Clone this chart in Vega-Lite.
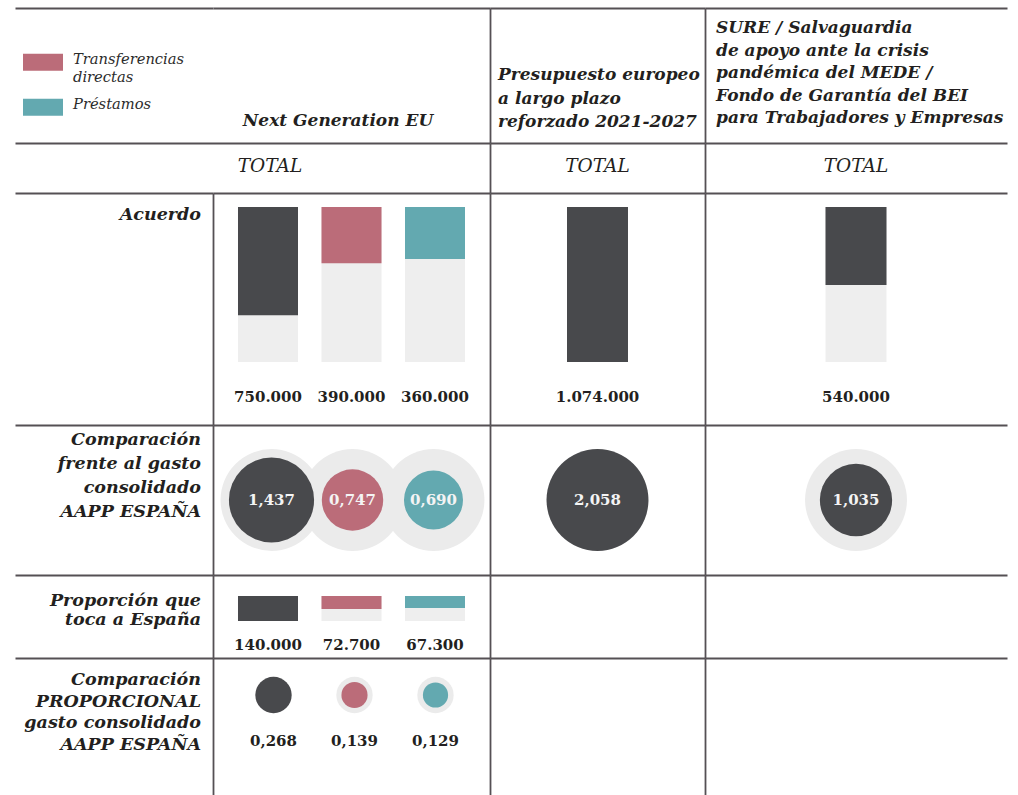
{
  "$schema": "https://vega.github.io/schema/vega-lite/v6.json",
  "padding": {"left": 15, "top": 8, "right": 11, "bottom": 0},
  "background": "white",
  "spacing": 0,
  "datasets": {
    "valores": [
      {"fila": "Acuerdo", "columna": "Next Generation EU", "serie": "Total", "valor": 750000},
      {"fila": "Acuerdo", "columna": "Next Generation EU", "serie": "Transferencias directas", "valor": 390000},
      {"fila": "Acuerdo", "columna": "Next Generation EU", "serie": "Préstamos", "valor": 360000},
      {"fila": "Acuerdo", "columna": "Presupuesto europeo", "serie": "Total", "valor": 1074000},
      {"fila": "Acuerdo", "columna": "SURE", "serie": "Total", "valor": 540000},
      {"fila": "Comparación", "columna": "Next Generation EU", "serie": "Total", "valor": 1.437},
      {"fila": "Comparación", "columna": "Next Generation EU", "serie": "Transferencias directas", "valor": 0.747},
      {"fila": "Comparación", "columna": "Next Generation EU", "serie": "Préstamos", "valor": 0.690},
      {"fila": "Comparación", "columna": "Presupuesto europeo", "serie": "Total", "valor": 2.058},
      {"fila": "Comparación", "columna": "SURE", "serie": "Total", "valor": 1.035},
      {"fila": "Proporción", "columna": "Next Generation EU", "serie": "Total", "valor": 140000},
      {"fila": "Proporción", "columna": "Next Generation EU", "serie": "Transferencias directas", "valor": 72700},
      {"fila": "Proporción", "columna": "Next Generation EU", "serie": "Préstamos", "valor": 67300},
      {"fila": "Proporcional", "columna": "Next Generation EU", "serie": "Total", "valor": 0.268},
      {"fila": "Proporcional", "columna": "Next Generation EU", "serie": "Transferencias directas", "valor": 0.139},
      {"fila": "Proporcional", "columna": "Next Generation EU", "serie": "Préstamos", "valor": 0.129}
    ],
    "celdas": [
      {"fila": "Cabecera", "columna": "Leyenda", "serie": "Transferencias directas", "texto": "Transferencias\ndirectas"},
      {"fila": "Cabecera", "columna": "Leyenda", "serie": "Préstamos", "texto": "Préstamos"},
      {"fila": "Cabecera", "columna": "Next Generation EU", "texto": "Next Generation EU"},
      {"fila": "Cabecera", "columna": "Presupuesto europeo", "texto": "Presupuesto europeo\na largo plazo\nreforzado 2021-2027"},
      {"fila": "Cabecera", "columna": "SURE", "texto": "SURE / Salvaguardia\nde apoyo ante la crisis\npandémica del MEDE /\nFondo de Garantía del BEI\npara Trabajadores y Empresas"},
      {"fila": "Total", "columna": "Next Generation EU", "texto": "TOTAL"},
      {"fila": "Total", "columna": "Presupuesto europeo", "texto": "TOTAL"},
      {"fila": "Total", "columna": "SURE", "texto": "TOTAL"},
      {"fila": "Acuerdo", "columna": "Etiqueta", "texto": "Acuerdo"},
      {"fila": "Comparación", "columna": "Etiqueta", "texto": "Comparación\u00a0\nfrente al gasto\u00a0\nconsolidado\nAAPP ESPAÑA"},
      {"fila": "Proporción", "columna": "Etiqueta", "texto": "Proporción que\ntoca a España"},
      {"fila": "Proporcional", "columna": "Etiqueta", "texto": "Comparación\u00a0\nPROPORCIONAL\ngasto consolidado\nAAPP ESPAÑA"},
      {"fila": "Proporción", "columna": "Presupuesto europeo", "texto": ""},
      {"fila": "Proporción", "columna": "SURE", "texto": ""},
      {"fila": "Proporcional", "columna": "Presupuesto europeo", "texto": ""},
      {"fila": "Proporcional", "columna": "SURE", "texto": ""}
    ]
  },
  "vconcat": [
    {
      "hconcat": [
        {
          "width": 198, "height": 135,
          "data": {"name": "celdas"},
          "transform": [{"filter": "datum.columna == 'Leyenda'"}],
          "encoding": {
            "x": {"field": "columna", "type": "nominal", "title": null, "bandPosition": 0, "scale": {"type": "band", "paddingInner": 0, "paddingOuter": 0}, "axis": {"orient": "top"}},
            "y": {"field": "serie", "type": "nominal", "title": null, "sort": ["Transferencias directas", "Préstamos"], "scale": {"type": "point", "padding": 1.017}, "axis": null}
          },
          "layer": [
            {
              "mark": {"type": "point", "filled": true, "opacity": 1, "shape": "M-1,-0.425H1V0.425H-1Z", "size": 1600, "xOffset": 28, "yOffset": 9.25},
              "encoding": {"color": {"field": "serie", "type": "nominal", "legend": null, "scale": {"domain": ["Total", "Transferencias directas", "Préstamos"], "range": ["#48494c", "#bb6c79", "#63a9b0"]}}}
            },
            {
              "mark": {"type": "text", "align": "left", "baseline": "middle", "dx": 58, "dy": 6.5, "font": "DejaVu Serif", "fontStyle": "italic", "fontSize": 14.7, "lineBreak": "\n", "lineHeight": 18, "color": "#2b2b2b"},
              "encoding": {"text": {"field": "texto"}}
            }
          ]
        },
        {
          "width": 277, "height": 135,
          "data": {"name": "celdas"},
          "transform": [{"filter": "datum.fila == 'Cabecera' && datum.columna == 'Next Generation EU'"}],
          "mark": {"type": "text", "align": "center", "baseline": "middle", "dx": -13.5, "dy": 45.5, "font": "DejaVu Serif", "fontStyle": "italic", "fontWeight": "bold", "fontSize": 17, "color": "#231f20"},
          "encoding": {
            "x": {"field": "columna", "type": "nominal", "title": null, "scale": {"type": "band", "paddingInner": 0, "paddingOuter": 0}, "axis": {"orient": "top"}},
            "y": {"field": "fila", "type": "nominal", "title": null, "scale": {"type": "band", "paddingInner": 0, "paddingOuter": 0}, "axis": null},
            "text": {"field": "texto"}
          }
        },
        {
          "width": 215, "height": 135,
          "data": {"name": "celdas"},
          "transform": [{"filter": "datum.fila == 'Cabecera' && datum.columna == 'Presupuesto europeo'"}],
          "mark": {"type": "text", "align": "left", "baseline": "middle", "dx": 8, "dy": -0.5, "font": "DejaVu Serif", "fontStyle": "italic", "fontWeight": "bold", "fontSize": 17, "lineBreak": "\n", "lineHeight": 23.5, "color": "#231f20"},
          "encoding": {
            "x": {"field": "columna", "type": "nominal", "title": null, "bandPosition": 0, "scale": {"type": "band", "paddingInner": 0, "paddingOuter": 0}, "axis": {"orient": "top"}},
            "y": {"field": "fila", "type": "nominal", "title": null, "scale": {"type": "band", "paddingInner": 0, "paddingOuter": 0}, "axis": {"orient": "left"}},
            "text": {"field": "texto"}
          }
        },
        {
          "width": 302, "height": 135,
          "data": {"name": "celdas"},
          "transform": [{"filter": "datum.fila == 'Cabecera' && datum.columna == 'SURE'"}],
          "mark": {"type": "text", "align": "left", "baseline": "middle", "dx": 11, "dy": 20, "font": "DejaVu Serif", "fontStyle": "italic", "fontWeight": "bold", "fontSize": 17, "lineBreak": "\n", "lineHeight": 22.5, "color": "#231f20"},
          "encoding": {
            "x": {"field": "columna", "type": "nominal", "title": null, "bandPosition": 0, "scale": {"type": "band", "paddingInner": 0, "paddingOuter": 0}, "axis": {"orient": "top"}},
            "y": {"field": "fila", "type": "nominal", "title": null, "bandPosition": 0, "scale": {"type": "band", "paddingInner": 0, "paddingOuter": 0}, "axis": {"orient": "left"}},
            "text": {"field": "texto"}
          }
        }
      ],
      "spacing": 0,
      "bounds": "flush"
    },
    {
      "hconcat": [
        {
          "width": 475, "height": 50,
          "data": {"name": "celdas"},
          "transform": [{"filter": "datum.fila == 'Total' && datum.columna == 'Next Generation EU'"}],
          "mark": {"type": "text", "align": "center", "baseline": "middle", "dx": 17.5, "dy": -2, "font": "DejaVu Serif", "fontStyle": "italic", "fontSize": 18.5, "color": "#231f20"},
          "encoding": {
            "x": {"field": "columna", "type": "nominal", "title": null, "scale": {"type": "band", "paddingInner": 0, "paddingOuter": 0}, "axis": {"orient": "top"}},
            "y": {"field": "fila", "type": "nominal", "title": null, "scale": {"type": "band", "paddingInner": 0, "paddingOuter": 0}, "axis": null},
            "text": {"field": "texto"}
          }
        },
        {
          "width": 215, "height": 50,
          "data": {"name": "celdas"},
          "transform": [{"filter": "datum.fila == 'Total' && datum.columna == 'Presupuesto europeo'"}],
          "mark": {"type": "text", "align": "center", "baseline": "middle", "dy": -2, "font": "DejaVu Serif", "fontStyle": "italic", "fontSize": 18.5, "color": "#231f20"},
          "encoding": {
            "x": {"field": "columna", "type": "nominal", "title": null, "scale": {"type": "band", "paddingInner": 0, "paddingOuter": 0}, "axis": {"orient": "top"}},
            "y": {"field": "fila", "type": "nominal", "title": null, "scale": {"type": "band", "paddingInner": 0, "paddingOuter": 0}, "axis": {"orient": "left"}},
            "text": {"field": "texto"}
          }
        },
        {
          "width": 302, "height": 50,
          "data": {"name": "celdas"},
          "transform": [{"filter": "datum.fila == 'Total' && datum.columna == 'SURE'"}],
          "mark": {"type": "text", "align": "center", "baseline": "middle", "dy": -2, "font": "DejaVu Serif", "fontStyle": "italic", "fontSize": 18.5, "color": "#231f20"},
          "encoding": {
            "x": {"field": "columna", "type": "nominal", "title": null, "scale": {"type": "band", "paddingInner": 0, "paddingOuter": 0}, "axis": {"orient": "top"}},
            "y": {"field": "fila", "type": "nominal", "title": null, "scale": {"type": "band", "paddingInner": 0, "paddingOuter": 0}, "axis": {"orient": "left"}},
            "text": {"field": "texto"}
          }
        }
      ],
      "spacing": 0,
      "bounds": "flush"
    },
    {
      "hconcat": [
        {
          "width": 198, "height": 232,
          "data": {"name": "celdas"},
          "transform": [{"filter": "datum.fila == 'Acuerdo' && datum.columna == 'Etiqueta'"}],
          "mark": {"type": "text", "align": "right", "baseline": "middle", "dx": -12, "dy": 22, "font": "DejaVu Serif", "fontStyle": "italic", "fontWeight": "bold", "fontSize": 17.5, "lineBreak": "\n", "lineHeight": 24, "color": "#231f20"},
          "encoding": {
            "x": {"field": "columna", "type": "nominal", "title": null, "bandPosition": 1, "scale": {"type": "band", "paddingInner": 0, "paddingOuter": 0}, "axis": {"orient": "top"}},
            "y": {"field": "fila", "type": "nominal", "title": null, "bandPosition": 0, "scale": {"type": "band", "paddingInner": 0, "paddingOuter": 0}, "axis": {"orient": "right"}},
            "text": {"field": "texto"}
          }
        },
        {
          "width": 277, "height": 232,
          "data": {"name": "valores"},
          "transform": [
            {"joinaggregate": [{"op": "max", "field": "valor", "as": "max"}], "groupby": ["fila"]},
            {"filter": "datum.fila == 'Acuerdo' && datum.columna == 'Next Generation EU'"}
          ],
          "encoding": {
            "x": {"field": "serie", "type": "nominal", "title": null, "scale": {"type": "band", "domain": ["Total", "Transferencias directas", "Préstamos"], "paddingInner": 0.2814, "paddingOuter": 0.2994}, "axis": {"orient": "top"}}
          },
          "layer": [
            {
              "mark": {"type": "bar", "color": "#eeeeee"},
              "encoding": {"y": {"field": "max", "type": "quantitative", "title": null, "scale": {"range": [14, 169], "nice": false, "zero": true}, "axis": null}}
            },
            {
              "mark": {"type": "bar"},
              "encoding": {
                "y": {"field": "valor", "type": "quantitative", "title": null, "axis": null},
                "color": {"field": "serie", "type": "nominal", "legend": null, "scale": {"domain": ["Total", "Transferencias directas", "Préstamos"], "range": ["#48494c", "#bb6c79", "#63a9b0"]}}
              }
            },
            {
              "mark": {"type": "text", "align": "center", "baseline": "middle", "dy": 35, "font": "DejaVu Serif", "fontWeight": "bold", "fontSize": 15, "color": "#231f20"},
              "encoding": {
                "y": {"field": "max", "type": "quantitative", "title": null, "axis": null},
                "text": {"field": "valor", "type": "quantitative", "format": ",.0f"}
              }
            }
          ]
        },
        {
          "width": 215, "height": 232,
          "data": {"name": "valores"},
          "transform": [
            {"joinaggregate": [{"op": "max", "field": "valor", "as": "max"}], "groupby": ["fila"]},
            {"filter": "datum.fila == 'Acuerdo' && datum.columna == 'Presupuesto europeo'"}
          ],
          "encoding": {
            "x": {"field": "serie", "type": "nominal", "title": null, "scale": {"type": "band", "paddingInner": 0.208, "paddingOuter": 1}, "axis": {"orient": "top"}}
          },
          "layer": [
            {
              "layer": [
                {
                  "mark": {"type": "bar", "color": "#eeeeee"},
                  "encoding": {"y": {"field": "max", "type": "quantitative", "title": null, "scale": {"range": [14, 169], "nice": false, "zero": true}, "axis": null}}
                },
                {
                  "mark": {"type": "bar"},
                  "encoding": {
                    "y": {"field": "valor", "type": "quantitative", "title": null, "axis": null},
                    "color": {"field": "serie", "type": "nominal", "legend": null, "scale": {"domain": ["Total", "Transferencias directas", "Préstamos"], "range": ["#48494c", "#bb6c79", "#63a9b0"]}}
                  }
                }
              ]
            },
            {
              "mark": {"type": "text", "align": "center", "baseline": "middle", "dy": 88, "font": "DejaVu Serif", "fontWeight": "bold", "fontSize": 15, "color": "#231f20"},
              "encoding": {
                "y": {"field": "fila", "type": "nominal", "title": null, "axis": {"orient": "left"}},
                "text": {"field": "valor", "type": "quantitative", "format": ",.0f"}
              }
            }
          ],
          "resolve": {"scale": {"y": "independent"}}
        },
        {
          "width": 302, "height": 232,
          "data": {"name": "valores"},
          "transform": [
            {"joinaggregate": [{"op": "max", "field": "valor", "as": "max"}], "groupby": ["fila"]},
            {"filter": "datum.fila == 'Acuerdo' && datum.columna == 'SURE'"}
          ],
          "encoding": {
            "x": {"field": "serie", "type": "nominal", "title": null, "scale": {"type": "band", "paddingInner": 0.494, "paddingOuter": 1}, "axis": {"orient": "top"}}
          },
          "layer": [
            {
              "layer": [
                {
                  "mark": {"type": "bar", "color": "#eeeeee"},
                  "encoding": {"y": {"field": "max", "type": "quantitative", "title": null, "scale": {"range": [14, 169], "nice": false, "zero": true}, "axis": null}}
                },
                {
                  "mark": {"type": "bar"},
                  "encoding": {
                    "y": {"field": "valor", "type": "quantitative", "title": null, "axis": null},
                    "color": {"field": "serie", "type": "nominal", "legend": null, "scale": {"domain": ["Total", "Transferencias directas", "Préstamos"], "range": ["#48494c", "#bb6c79", "#63a9b0"]}}
                  }
                }
              ]
            },
            {
              "mark": {"type": "text", "align": "center", "baseline": "middle", "dy": 88, "font": "DejaVu Serif", "fontWeight": "bold", "fontSize": 15, "color": "#231f20"},
              "encoding": {
                "y": {"field": "fila", "type": "nominal", "title": null, "axis": {"orient": "left"}},
                "text": {"field": "valor", "type": "quantitative", "format": ",.0f"}
              }
            }
          ],
          "resolve": {"scale": {"y": "independent"}}
        }
      ],
      "spacing": 0,
      "bounds": "flush"
    },
    {
      "hconcat": [
        {
          "width": 198, "height": 150,
          "data": {"name": "celdas"},
          "transform": [{"filter": "datum.fila == 'Comparación' && datum.columna == 'Etiqueta'"}],
          "mark": {"type": "text", "align": "right", "baseline": "middle", "dx": -12, "dy": 15, "font": "DejaVu Serif", "fontStyle": "italic", "fontWeight": "bold", "fontSize": 17.5, "lineBreak": "\n", "lineHeight": 24, "color": "#231f20"},
          "encoding": {
            "x": {"field": "columna", "type": "nominal", "title": null, "bandPosition": 1, "scale": {"type": "band", "paddingInner": 0, "paddingOuter": 0}, "axis": {"orient": "top"}},
            "y": {"field": "fila", "type": "nominal", "title": null, "bandPosition": 0, "scale": {"type": "band", "paddingInner": 0, "paddingOuter": 0}, "axis": {"orient": "right"}},
            "text": {"field": "texto"}
          }
        },
        {
          "width": 277, "height": 150,
          "data": {"name": "valores"},
          "transform": [
            {"joinaggregate": [{"op": "max", "field": "valor", "as": "max"}], "groupby": ["fila"]},
            {"filter": "datum.fila == 'Comparación' && datum.columna == 'Next Generation EU'"}
          ],
          "encoding": {
            "x": {"field": "serie", "type": "nominal", "title": null, "scale": {"type": "point", "domain": ["Total", "Transferencias directas", "Préstamos"], "padding": 0.71}, "axis": {"orient": "top"}},
            "y": {"field": "fila", "type": "nominal", "title": null, "axis": null}
          },
          "layer": [
            {
              "mark": {"type": "circle", "color": "#ebebeb", "opacity": 1, "xOffset": 1},
              "encoding": {"size": {"field": "max", "type": "quantitative", "legend": null, "scale": {"range": [0, 10387], "zero": true, "nice": false}}}
            },
            {
              "mark": {"type": "circle", "opacity": 1, "xOffset": 1},
              "encoding": {
                "size": {"field": "valor", "type": "quantitative", "legend": null},
                "color": {"field": "serie", "type": "nominal", "legend": null, "scale": {"domain": ["Total", "Transferencias directas", "Préstamos"], "range": ["#48494c", "#bb6c79", "#63a9b0"]}}
              }
            },
            {
              "mark": {"type": "text", "align": "center", "baseline": "middle", "dx": 1, "font": "DejaVu Serif", "fontWeight": "bold", "fontSize": 15, "color": "#f4f4f4"},
              "encoding": {"text": {"field": "valor", "type": "quantitative", "format": ".3f"}}
            }
          ]
        },
        {
          "width": 215, "height": 150,
          "data": {"name": "valores"},
          "transform": [
            {"joinaggregate": [{"op": "max", "field": "valor", "as": "max"}], "groupby": ["fila"]},
            {"filter": "datum.fila == 'Comparación' && datum.columna == 'Presupuesto europeo'"}
          ],
          "encoding": {
            "x": {"field": "serie", "type": "nominal", "title": null, "scale": {"type": "point"}, "axis": {"orient": "top"}},
            "y": {"field": "fila", "type": "nominal", "title": null, "axis": {"orient": "left"}}
          },
          "layer": [
            {
              "mark": {"type": "circle", "color": "#ebebeb", "opacity": 1},
              "encoding": {"size": {"field": "max", "type": "quantitative", "legend": null, "scale": {"range": [0, 10387], "zero": true, "nice": false}}}
            },
            {
              "mark": {"type": "circle", "opacity": 1},
              "encoding": {
                "size": {"field": "valor", "type": "quantitative", "legend": null},
                "color": {"field": "serie", "type": "nominal", "legend": null, "scale": {"domain": ["Total", "Transferencias directas", "Préstamos"], "range": ["#48494c", "#bb6c79", "#63a9b0"]}}
              }
            },
            {
              "mark": {"type": "text", "align": "center", "baseline": "middle", "font": "DejaVu Serif", "fontWeight": "bold", "fontSize": 15, "color": "#f4f4f4"},
              "encoding": {"text": {"field": "valor", "type": "quantitative", "format": ".3f"}}
            }
          ]
        },
        {
          "width": 302, "height": 150,
          "data": {"name": "valores"},
          "transform": [
            {"joinaggregate": [{"op": "max", "field": "valor", "as": "max"}], "groupby": ["fila"]},
            {"filter": "datum.fila == 'Comparación' && datum.columna == 'SURE'"}
          ],
          "encoding": {
            "x": {"field": "serie", "type": "nominal", "title": null, "scale": {"type": "point"}, "axis": {"orient": "top"}},
            "y": {"field": "fila", "type": "nominal", "title": null, "axis": {"orient": "left"}}
          },
          "layer": [
            {
              "mark": {"type": "circle", "color": "#ebebeb", "opacity": 1},
              "encoding": {"size": {"field": "max", "type": "quantitative", "legend": null, "scale": {"range": [0, 10387], "zero": true, "nice": false}}}
            },
            {
              "mark": {"type": "circle", "opacity": 1},
              "encoding": {
                "size": {"field": "valor", "type": "quantitative", "legend": null},
                "color": {"field": "serie", "type": "nominal", "legend": null, "scale": {"domain": ["Total", "Transferencias directas", "Préstamos"], "range": ["#48494c", "#bb6c79", "#63a9b0"]}}
              }
            },
            {
              "mark": {"type": "text", "align": "center", "baseline": "middle", "font": "DejaVu Serif", "fontWeight": "bold", "fontSize": 15, "color": "#f4f4f4"},
              "encoding": {"text": {"field": "valor", "type": "quantitative", "format": ".3f"}}
            }
          ]
        }
      ],
      "spacing": 0,
      "bounds": "flush"
    },
    {
      "hconcat": [
        {
          "width": 198, "height": 83,
          "data": {"name": "celdas"},
          "transform": [{"filter": "datum.fila == 'Proporción' && datum.columna == 'Etiqueta'"}],
          "mark": {"type": "text", "align": "right", "baseline": "middle", "dx": -12, "dy": 26, "font": "DejaVu Serif", "fontStyle": "italic", "fontWeight": "bold", "fontSize": 17.5, "lineBreak": "\n", "lineHeight": 19, "color": "#231f20"},
          "encoding": {
            "x": {"field": "columna", "type": "nominal", "title": null, "bandPosition": 1, "scale": {"type": "band", "paddingInner": 0, "paddingOuter": 0}, "axis": {"orient": "top"}},
            "y": {"field": "fila", "type": "nominal", "title": null, "bandPosition": 0, "scale": {"type": "band", "paddingInner": 0, "paddingOuter": 0}, "axis": {"orient": "right"}},
            "text": {"field": "texto"}
          }
        },
        {
          "width": 277, "height": 83,
          "data": {"name": "valores"},
          "transform": [
            {"joinaggregate": [{"op": "max", "field": "valor", "as": "max"}], "groupby": ["fila"]},
            {"filter": "datum.fila == 'Proporción' && datum.columna == 'Next Generation EU'"}
          ],
          "encoding": {
            "x": {"field": "serie", "type": "nominal", "title": null, "scale": {"type": "band", "domain": ["Total", "Transferencias directas", "Préstamos"], "paddingInner": 0.2814, "paddingOuter": 0.2994}, "axis": {"orient": "top"}}
          },
          "layer": [
            {
              "mark": {"type": "bar", "color": "#eeeeee"},
              "encoding": {"y": {"field": "max", "type": "quantitative", "title": null, "scale": {"range": [21, 46], "nice": false, "zero": true}, "axis": null}}
            },
            {
              "mark": {"type": "bar"},
              "encoding": {
                "y": {"field": "valor", "type": "quantitative", "title": null, "axis": null},
                "color": {"field": "serie", "type": "nominal", "legend": null, "scale": {"domain": ["Total", "Transferencias directas", "Préstamos"], "range": ["#48494c", "#bb6c79", "#63a9b0"]}}
              }
            },
            {
              "mark": {"type": "text", "align": "center", "baseline": "middle", "dy": 24, "font": "DejaVu Serif", "fontWeight": "bold", "fontSize": 15, "color": "#231f20"},
              "encoding": {
                "y": {"field": "max", "type": "quantitative", "title": null, "axis": null},
                "text": {"field": "valor", "type": "quantitative", "format": ",.0f"}
              }
            }
          ]
        },
        {
          "width": 215, "height": 83,
          "data": {"name": "celdas"},
          "transform": [{"filter": "datum.fila == 'Proporción' && datum.columna == 'Presupuesto europeo'"}],
          "mark": {"type": "text"},
          "encoding": {
            "x": {"field": "columna", "type": "nominal", "title": null, "axis": {"orient": "top"}},
            "y": {"field": "fila", "type": "nominal", "title": null, "axis": {"orient": "left"}},
            "text": {"field": "texto"}
          }
        },
        {
          "width": 302, "height": 83,
          "data": {"name": "celdas"},
          "transform": [{"filter": "datum.fila == 'Proporción' && datum.columna == 'SURE'"}],
          "mark": {"type": "text"},
          "encoding": {
            "x": {"field": "columna", "type": "nominal", "title": null, "axis": {"orient": "top"}},
            "y": {"field": "fila", "type": "nominal", "title": null, "axis": {"orient": "left"}},
            "text": {"field": "texto"}
          }
        }
      ],
      "spacing": 0,
      "bounds": "flush"
    },
    {
      "hconcat": [
        {
          "width": 198, "height": 137,
          "data": {"name": "celdas"},
          "transform": [{"filter": "datum.fila == 'Proporcional' && datum.columna == 'Etiqueta'"}],
          "mark": {"type": "text", "align": "right", "baseline": "middle", "dx": -12, "dy": 22, "font": "DejaVu Serif", "fontStyle": "italic", "fontWeight": "bold", "fontSize": 17.5, "lineBreak": "\n", "lineHeight": 21.7, "color": "#231f20"},
          "encoding": {
            "x": {"field": "columna", "type": "nominal", "title": null, "bandPosition": 1, "scale": {"type": "band", "paddingInner": 0, "paddingOuter": 0}, "axis": {"orient": "top"}},
            "y": {"field": "fila", "type": "nominal", "title": null, "bandPosition": 0, "scale": {"type": "band", "paddingInner": 0, "paddingOuter": 0}, "axis": {"orient": "right"}},
            "text": {"field": "texto"}
          }
        },
        {
          "width": 277, "height": 137,
          "data": {"name": "valores"},
          "transform": [
            {"joinaggregate": [{"op": "max", "field": "valor", "as": "max"}], "groupby": ["fila"]},
            {"filter": "datum.fila == 'Proporcional' && datum.columna == 'Next Generation EU'"}
          ],
          "encoding": {
            "x": {"field": "serie", "type": "nominal", "title": null, "scale": {"type": "point", "domain": ["Total", "Transferencias directas", "Préstamos"], "padding": 0.71}, "axis": {"orient": "top"}},
            "y": {"field": "fila", "type": "nominal", "title": null, "axis": null}
          },
          "layer": [
            {
              "mark": {"type": "circle", "color": "#ebebeb", "opacity": 1, "xOffset": 3, "yOffset": -31.5},
              "encoding": {"size": {"field": "max", "type": "quantitative", "legend": null, "scale": {"range": [0, 1320], "zero": true, "nice": false}}}
            },
            {
              "mark": {"type": "circle", "opacity": 1, "xOffset": 3, "yOffset": -31.5},
              "encoding": {
                "size": {"field": "valor", "type": "quantitative", "legend": null},
                "color": {"field": "serie", "type": "nominal", "legend": null, "scale": {"domain": ["Total", "Transferencias directas", "Préstamos"], "range": ["#48494c", "#bb6c79", "#63a9b0"]}}
              }
            },
            {
              "mark": {"type": "text", "align": "center", "baseline": "middle", "dx": 3, "dy": 14.5, "font": "DejaVu Serif", "fontWeight": "bold", "fontSize": 15, "color": "#231f20"},
              "encoding": {"text": {"field": "valor", "type": "quantitative", "format": ".3f"}}
            }
          ]
        },
        {
          "width": 215, "height": 137,
          "data": {"name": "celdas"},
          "transform": [{"filter": "datum.fila == 'Proporcional' && datum.columna == 'Presupuesto europeo'"}],
          "mark": {"type": "text"},
          "encoding": {
            "x": {"field": "columna", "type": "nominal", "title": null, "axis": {"orient": "top"}},
            "y": {"field": "fila", "type": "nominal", "title": null, "axis": {"orient": "left"}},
            "text": {"field": "texto"}
          }
        },
        {
          "width": 302, "height": 137,
          "data": {"name": "celdas"},
          "transform": [{"filter": "datum.fila == 'Proporcional' && datum.columna == 'SURE'"}],
          "mark": {"type": "text"},
          "encoding": {
            "x": {"field": "columna", "type": "nominal", "title": null, "axis": {"orient": "top"}},
            "y": {"field": "fila", "type": "nominal", "title": null, "axis": {"orient": "left"}},
            "text": {"field": "texto"}
          }
        }
      ],
      "spacing": 0,
      "bounds": "flush"
    }
  ],
  "resolve": {"scale": {"size": "independent"}},
  "config": {
    "view": {"stroke": null},
    "locale": {"number": {"decimal": ",", "thousands": ".", "grouping": [3], "currency": ["", " €"]}},
    "axis": {"domain": true, "domainColor": "#555054", "domainWidth": 1.8, "ticks": false, "labels": false, "grid": false}
  }
}
